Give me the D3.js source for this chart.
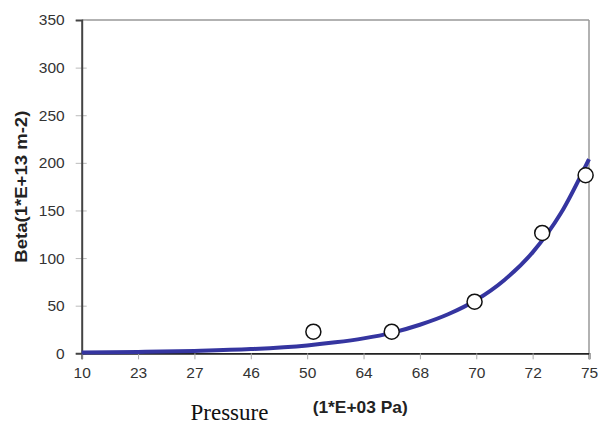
<!DOCTYPE html>
<html><head><meta charset="utf-8">
<script src="https://cdn.jsdelivr.net/npm/d3@7"></script>
<style>body{margin:0;background:#fff}svg{display:block}</style>
</head><body>
<script>
// Categorical x-axis labels (evenly spaced)
const xCategories = ["10","23","27","46","50","64","68","70","72","75"];
// Y axis tick values
const yTicks = [0,50,100,150,200,250,300,350];
// Measured points: position along category axis (index) and Beta value
const pointPos = [4.11, 5.5, 6.97, 8.17, 8.94];
const pointVal = [22.7, 22.7, 54.2, 126.4, 187];
// Fitted curve
const curvePos = [0, 1, 2, 3, 4, 4.5, 5, 5.5, 6, 6.5, 7, 7.5, 8, 8.5, 9];
const curveVal = [0.8, 1.4, 2.5, 4.4, 8.3, 11.5, 15.7, 21.5, 30, 41, 56, 77, 106, 147, 204];

const W = 600, H = 423;
const m = {left: 81.7, right: 11, top: 20, bottom: 69.7};
const FONT = "Arial, 'Liberation Sans', sans-serif";
const svg = d3.select("body").append("svg").attr("width", W).attr("height", H);

const x = d3.scaleLinear().domain([0, xCategories.length - 1]).range([m.left, W - m.right]);
const y = d3.scaleLinear().domain([0, 350]).range([H - m.bottom, m.top]);

// frame top & right
svg.append("line").attr("x1", x(0)).attr("x2", x(9)).attr("y1", y(350)).attr("y2", y(350))
  .attr("stroke", "#999").attr("stroke-width", 1.5);
svg.append("line").attr("x1", x(9)).attr("x2", x(9)).attr("y1", y(350)).attr("y2", y(0))
  .attr("stroke", "#999").attr("stroke-width", 1.5);

// Y axis
const yAxis = d3.axisLeft(y).tickValues(yTicks).tickSize(6).tickPadding(11);
const gy = svg.append("g").attr("transform", `translate(${x(0)},0)`).call(yAxis);
gy.selectAll(".tick line").attr("x2", -6).attr("x1", 5).attr("stroke", "#bbb");
gy.select(".domain").attr("stroke", "#444").attr("stroke-width", 2).raise();
gy.selectAll(".tick text").attr("font-family", FONT).attr("font-size", 15.5).attr("fill", "#333");

// X axis
const xAxis = d3.axisBottom(x).tickValues(d3.range(xCategories.length))
  .tickFormat(i => xCategories[i]).tickSize(6).tickPadding(7.5);
const gx = svg.append("g").attr("transform", `translate(0,${y(0)})`).call(xAxis);
gx.select(".domain").attr("stroke", "#222").attr("stroke-width", 1.8);
gx.selectAll(".tick line").attr("stroke", "#aaa");
gx.selectAll(".tick text").attr("font-family", FONT).attr("font-size", 15.5).attr("fill", "#333");

// Curve
const line = d3.line().x(d => x(d[0])).y(d => y(d[1])).curve(d3.curveMonotoneX);
svg.append("path").datum(d3.zip(curvePos, curveVal)).attr("d", line)
  .attr("fill", "none").attr("stroke", "#3535a0").attr("stroke-width", 4);

// Points
svg.append("g").selectAll("circle").data(d3.zip(pointPos, pointVal)).join("circle")
  .attr("cx", d => x(d[0])).attr("cy", d => y(d[1])).attr("r", 7.5)
  .attr("fill", "#fff").attr("stroke", "#111").attr("stroke-width", 1.5);

// Y title
svg.append("text").attr("transform", `translate(27,${(y(0)+y(350))/2}) rotate(-90)`)
  .attr("text-anchor", "middle").attr("font-family", FONT)
  .attr("font-weight", "bold").attr("font-size", 17).attr("fill", "#222")
  .attr("textLength", 152).attr("lengthAdjust", "spacingAndGlyphs")
  .text("Beta(1*E+13 m-2)");

// X titles
svg.append("text").attr("x", 190.5).attr("y", 419.5)
  .attr("font-family", "'Liberation Serif', 'Times New Roman', serif")
  .attr("font-size", 23).attr("fill", "#111").text("Pressure");
svg.append("text").attr("x", 312.7).attr("y", 413.3)
  .attr("font-family", FONT).attr("textLength", 95).attr("lengthAdjust", "spacingAndGlyphs")
  .attr("font-weight", "bold").attr("font-size", 17).attr("fill", "#222").text("(1*E+03 Pa)");
</script>
</body></html>
